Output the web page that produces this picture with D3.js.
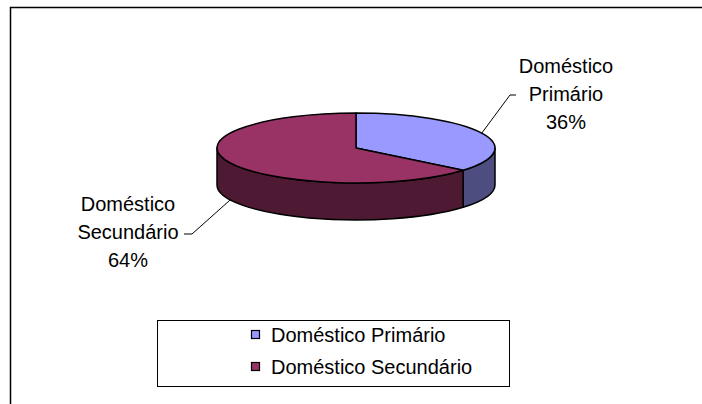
<!DOCTYPE html>
<html>
<head>
<meta charset="utf-8">
<script src="https://cdn.jsdelivr.net/npm/d3@7"></script>
<style>
  body { margin: 0; background: #fff; }
  text { font-family: "Liberation Sans", Arial, sans-serif; fill: #000; }
</style>
</head>
<body>
<div id="chart"></div>
<script>
// data
var categories = ['Doméstico Primário', 'Doméstico Secundário'];
var labelLines = [['Doméstico', 'Primário'], ['Doméstico', 'Secundário']];
var values = [36, 64];
var topColors = ['#9999FF', '#993366'];
var sideColors = ['#4D4D80', '#4D1933'];

var width = 702, height = 404;

var svg = d3.select('#chart').append('svg')
    .attr('width', width)
    .attr('height', height);

// outer chart frame (clipped on right and bottom like the original)
svg.append('path')
    .attr('d', 'M10.5,' + height + ' L10.5,7.5 L' + width + ',7.5')
    .attr('fill', 'none')
    .attr('stroke', '#000')
    .attr('stroke-width', 1.5);

// pie geometry
var cx = 356, cy = 148, rx = 139, ry = 35, depth = 37;

var pie = d3.pie().sort(null).startAngle(0).endAngle(2 * Math.PI);
var arcs = pie(values);

// angle (clockwise from 12 o'clock) -> point on ellipse
var ex = d3.scaleLinear().domain([-1, 1]).range([cx - rx, cx + rx]);
var ey = d3.scaleLinear().domain([-1, 1]).range([cy - ry, cy + ry]);
function pt(a, dz) { return [ex(Math.sin(a)), ey(-Math.cos(a)) + (dz || 0)]; }

function sidePath(a0, a1) {
  var p0 = pt(a0), p1 = pt(a1), q1 = pt(a1, depth), q0 = pt(a0, depth);
  var large = (a1 - a0) > Math.PI ? 1 : 0;
  return 'M' + p0 + ' A' + rx + ',' + ry + ' 0 ' + large + ' 1 ' + p1 +
    ' L' + q1 + ' A' + rx + ',' + ry + ' 0 ' + large + ' 0 ' + q0 + ' Z';
}

function topPath(a0, a1) {
  var p0 = pt(a0), p1 = pt(a1);
  var large = (a1 - a0) > Math.PI ? 1 : 0;
  return 'M' + cx + ',' + cy + ' L' + p0 + ' A' + rx + ',' + ry + ' 0 ' + large + ' 1 ' + p1 + ' Z';
}

var g = svg.append('g');

// side walls: only the front half (90deg..270deg) is visible
arcs.forEach(function(d, i) {
  var a0 = Math.max(d.startAngle, Math.PI / 2);
  var a1 = Math.min(d.endAngle, 3 * Math.PI / 2);
  if (a1 <= a0) return;
  g.append('path')
      .attr('d', sidePath(a0, a1))
      .attr('fill', sideColors[i])
      .attr('stroke', '#000')
      .attr('stroke-width', 1.5)
      .attr('stroke-linejoin', 'round');
});

g.selectAll('.slice')
    .data(arcs)
  .enter().append('path')
    .attr('class', 'slice')
    .attr('d', function(d) { return topPath(d.startAngle, d.endAngle); })
    .attr('fill', function(d, i) { return topColors[i]; })
    .attr('stroke', '#000')
    .attr('stroke-width', 1.5)
    .attr('stroke-linejoin', 'round');

// data labels
var total = d3.sum(values);
var fmt = function(v) { return Math.round(v / total * 100) + '%'; };
var labelPos = [{x: 566, y: 73, hook: [510, 95, 516]}, {x: 128, y: 211, hook: [192, 234, 184]}];
var lineH = 28;

arcs.forEach(function(d, i) {
  var mid = (d.startAngle + d.endAngle) / 2;
  var onFront = mid > Math.PI / 2 && mid < 3 * Math.PI / 2;
  var p = pt(mid, onFront ? depth : 0);
  var h = labelPos[i].hook;
  svg.append('polyline')
      .attr('points', [p, [h[0], h[1]], [h[2], h[1]]].join(' '))
      .attr('fill', 'none')
      .attr('stroke', '#000')
      .attr('stroke-width', 1);

  var t = svg.append('text')
      .attr('text-anchor', 'middle')
      .attr('font-size', 20);
  labelLines[i].concat([fmt(values[i])]).forEach(function(s, k) {
    t.append('tspan')
        .attr('x', labelPos[i].x)
        .attr('y', labelPos[i].y + k * lineH)
        .text(s);
  });
});

// legend
var legend = svg.append('g');
legend.append('rect')
    .attr('x', 157.5).attr('y', 320.5)
    .attr('width', 352).attr('height', 66)
    .attr('fill', '#fff')
    .attr('stroke', '#000')
    .attr('stroke-width', 1);

var ly = d3.scalePoint().domain(categories).range([335, 367]);
var items = legend.selectAll('.item')
    .data(categories)
  .enter().append('g')
    .attr('class', 'item')
    .attr('transform', function(d) { return 'translate(0,' + ly(d) + ')'; });

items.append('rect')
    .attr('x', 251.5).attr('y', -4.5)
    .attr('width', 8).attr('height', 8)
    .attr('fill', function(d, i) { return topColors[i]; })
    .attr('stroke', '#000')
    .attr('stroke-width', 1.2);

items.append('text')
    .attr('x', 271)
    .attr('y', 0)
    .attr('dy', '0.35em')
    .attr('font-size', 20)
    .text(function(d) { return d; });
</script>
</body>
</html>
